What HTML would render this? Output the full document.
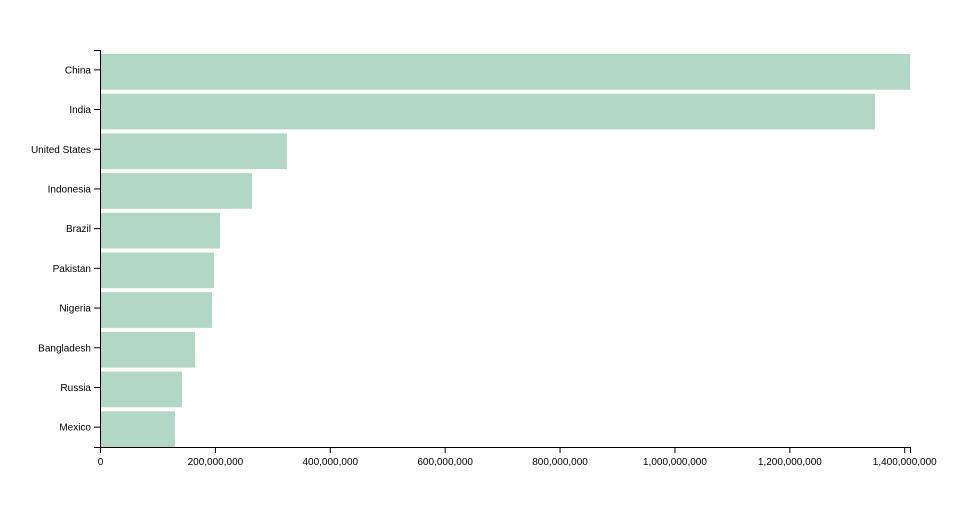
<!DOCTYPE html>
<html><head><meta charset="utf-8"><style>
body{margin:0;background:#fff}
svg text{font-family:"Liberation Sans",sans-serif;font-size:10px;fill:#000}
</style></head><body>
<svg id="chart" width="960" height="500" xmlns="http://www.w3.org/2000/svg"></svg>
<script>
const categories=["China","India","United States","Indonesia","Brazil","Pakistan","Nigeria","Bangladesh","Russia","Mexico"];
const values=[1410000000,1349000000,325500000,264600000,208900000,198400000,195000000,165400000,142700000,130600000];
const xTicks=[0,200000000,400000000,600000000,800000000,1000000000,1200000000,1400000000];
const NS="http://www.w3.org/2000/svg";
const svg=document.getElementById('chart');
const L=100,R=910,T=50,B=447;
const maxV=Math.max(...values);
const x=v=>L+(v/maxV)*(R-L);
const step=(B-T)/categories.length,pad=0.1;
const y=i=>T+i*step+step*pad;
const bh=step*(1-pad);
function mk(tag,attrs,parent){const e=document.createElementNS(NS,tag);for(const k in attrs)e.setAttribute(k,attrs[k]);(parent||svg).appendChild(e);return e;}
const bars=mk('g',{});


values.forEach((v,i)=>{
  const r=mk('rect',{x:L,y:y(i),width:x(v)-L,height:bh,fill:'#b3d7c5'},bars);
  
  
});
// y axis
const ya=mk('g',{});


mk('path',{d:`M${L-6},${T+0.5}H${L+0.5}V${B+0.5}H${L-6}`,fill:'none',stroke:'#000'},ya);
categories.forEach((c,i)=>{
  const cy=T+i*step+step/2;
  mk('line',{x1:L-6,x2:L,y1:cy,y2:cy,stroke:'#000'},ya);
  const t=mk('text',{x:L-9,y:cy+3.5,'text-anchor':'end'},ya);
  t.textContent=c;
  
  
});
// x axis
const xa=mk('g',{});


mk('path',{d:`M${L+0.5},${B+6}V${B+0.5}H${R+0.5}V${B+6}`,fill:'none',stroke:'#000'},xa);
xTicks.forEach(v=>{
  const tx=x(v)+0.5;
  mk('line',{x1:tx,x2:tx,y1:B,y2:B+6,stroke:'#000'},xa);
  const t=mk('text',{x:tx,y:B+18,'text-anchor':'middle'},xa);
  t.textContent=v.toLocaleString('en-US');
  
  
});
</script>
</body></html>
